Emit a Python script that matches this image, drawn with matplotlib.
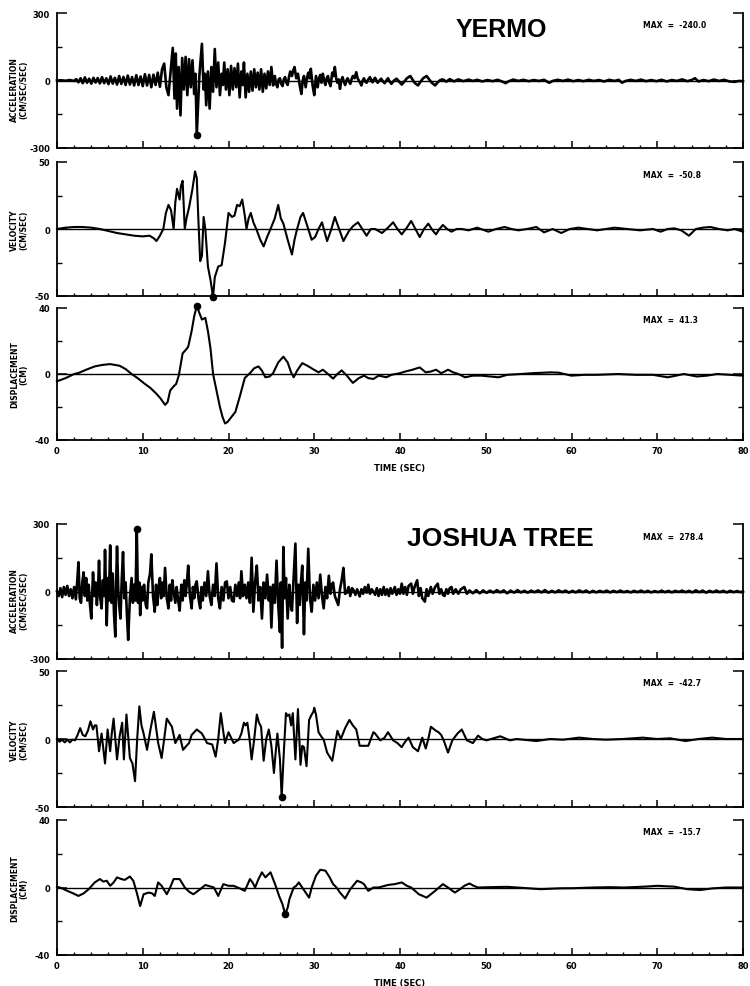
import numpy as np
import matplotlib
matplotlib.use("Agg")
import matplotlib.pyplot as plt
from matplotlib.ticker import FixedLocator, MultipleLocator

# ---------------- data (time [s], value) read from the record ----------------
yermo_acc = [(0,0),(0.5,1),(1.0,-1),(1.5,2),(2.0,-2),
(2.25,6),(2.5,-8),(2.75,10),(3.0,-12),(3.25,14),(3.5,-10),(3.75,8),(4.0,-14),(4.25,12),(4.5,-9),(4.75,11),(5.0,-13),(5.25,15),(5.5,-12),(5.75,10),(6.0,-16),(6.25,18),(6.5,-14),(6.75,12),(7.0,-18),(7.25,20),(7.5,-15),(7.75,16),(8.0,-20),(8.25,22),(8.5,-18),(8.75,15),(9.0,-22),(9.25,24),(9.5,-20),(9.75,18),(10.0,-25),
(10.25,28),(10.5,-22),(10.75,25),(11.0,-30),(11.25,26),(11.5,-20),(11.75,35),(12.0,-28),
(12.25,50),(12.5,75),(12.75,-30),(13.0,-65),(13.25,40),(13.5,145),(13.7,-80),(13.85,120),(14.0,-125),(14.2,60),(14.4,-155),(14.6,100),(14.8,-40),(15.0,105),(15.2,-65),(15.4,95),(15.6,-30),(15.8,90),(16.0,-60),(16.15,30),(16.3,-240),(16.6,20),(16.9,163),(17.1,-40),(17.25,30),(17.4,-110),(17.6,40),(17.8,-125),(18.0,60),(18.2,-50),(18.4,140),(18.6,-30),(18.8,80),(19.0,-65),(19.2,30),(19.35,-20),(19.5,80),(19.7,-40),(19.9,50),(20.1,-65),(20.3,65),(20.5,-40),(20.7,55),(20.9,-30),(21.1,75),(21.3,-75),(21.5,40),(21.65,-20),(21.8,80),(22.0,-75),(22.2,30),(22.4,-50),(22.6,40),(22.8,-45),(23.0,50),(23.2,-30),(23.4,35),(23.6,-40),(23.8,50),(24.0,-50),(24.2,30),(24.4,-35),(24.6,40),(24.8,-20),(25.0,60),(25.2,-22),(25.4,20),(25.55,-15),(25.7,-30),(25.85,5),(26.0,10),(26.15,-15),(26.3,-25),(26.45,5),(26.6,15),(26.75,-10),(26.9,-20),(27.05,15),(27.2,40),(27.4,20),(27.55,45),(27.7,60),(27.9,10),(28.1,30),(28.3,-20),(28.5,-60),(28.65,0),(28.8,20),(29.0,-30),(29.15,10),(29.3,35),(29.45,10),(29.6,52),(29.8,-20),(30.0,-65),(30.2,20),(30.4,-30),(30.55,10),(30.7,25),(30.85,-10),(31.0,30),(31.15,0),(31.3,-20),(31.45,10),(31.6,20),(31.75,-10),(31.9,-25),(32.1,35),(32.25,20),(32.4,60),(32.55,10),(32.7,-10),(32.85,5),(33.0,-37),(33.15,0),(33.3,15),(33.45,-5),(33.6,-20),(33.75,0),(33.9,10),(34.05,-5),(34.2,-15),(34.35,5),(34.5,20),(34.7,10),(34.9,37),(35.05,10),(35.2,0),(35.35,-10),(35.5,-22),(35.65,0),(35.8,10),(35.95,-5),(36.1,-10),(36.3,5),(36.5,15),(36.65,0),(36.8,-8),(36.95,5),(37.1,12),(37.25,0),(37.4,-10),(37.6,0),(37.8,8),(38.0,-3),(38.2,-12),(38.4,0),(38.6,10),(38.8,-5),(39.0,-15),(39.3,0),(39.6,8),(39.9,-5),(40.2,-18),(40.5,-5),(40.8,10),(41.2,20),(41.4,8),(41.7,-10),(42.1,-22),(42.4,-5),(42.7,10),(43.1,20),(43.4,5),(43.7,-10),(44.1,-22),(44.4,-8),(44.7,2),(45.0,5),(45.4,-5),(45.8,6),(46.3,-4),(46.8,5),(47.4,-3),(48.0,4),(48.5,-2),(49.0,3),(49.6,-4),(50.2,2),(50.8,-3),(51.4,3),(52.0,-6),(52.3,-12),(52.7,-3),(53.2,4),(53.8,-2),(54.4,3),(55.0,-3),(55.6,2),(56.2,-2),(56.8,3),(57.4,-10),(57.8,-2),(58.4,3),(59.0,-2),(59.6,4),(60.2,-3),(60.8,2),(61.4,-3),(62.0,3),(62.6,-2),(63.2,2),(63.8,-4),(64.4,3),(65.0,-2),(65.5,3),(65.9,-10),(66.3,-2),(66.9,3),(67.5,-2),(68.1,4),(68.7,-3),(69.3,2),(69.9,-3),(70.5,3),(71.1,-4),(71.7,2),(72.3,-2),(72.9,5),(73.5,-3),(74.0,2),(74.4,10),(74.8,-4),(75.4,2),(76.0,-3),(76.6,4),(77.2,-2),(77.8,3),(78.4,-4),(79.0,-6),(79.5,-2),(80.0,-3)]

yermo_vel = [(0,0),(1,1),(2,1.5),(3,1.5),(4,1),(5,0),(6,-1.5),(7,-3),(8,-4),(9,-5),(10,-5.5),(10.8,-5),(11.3,-7),(11.6,-9),(12.0,-5),(12.4,0),(12.7,12),(13.0,18),(13.3,14),(13.6,0),(13.8,20),(14.0,30),(14.15,26),(14.3,22),(14.45,32),(14.65,36),(14.9,0),(15.1,8),(15.4,16),(15.8,30),(16.1,43),(16.3,38),(16.5,5),(16.7,-24),(16.9,-20),(17.1,9),(17.3,0),(17.6,-28),(17.9,-38),(18.2,-50.8),(18.4,-36),(18.6,-32),(18.8,-28),(19.2,-27),(19.6,-10),(20.0,12),(20.4,9),(20.7,10),(21.0,18),(21.3,17),(21.6,22),(21.9,10),(22.1,0),(22.35,8),(22.6,12),(22.9,5),(23.3,-1),(23.7,-8),(24.1,-13),(24.5,-6),(24.9,0),(25.4,8),(25.8,18),(26.1,8),(26.4,4),(26.9,-8),(27.4,-19),(27.7,-8),(28.0,0),(28.4,9),(28.7,12),(29.0,6),(29.3,0),(29.7,-8),(30.1,-6),(30.5,0),(30.9,5),(31.2,-2),(31.5,-9),(32.0,0),(32.4,9),(32.9,0),(33.4,-9),(34.0,-2),(34.5,2),(35.1,5),(35.6,0),(36.1,-5),(36.6,0),(37.1,0),(37.9,-3),(38.6,1),(39.2,5),(39.7,0),(40.2,-4),(40.8,1),(41.3,6),(41.8,0),(42.3,-6),(42.8,0),(43.3,4),(43.8,-1),(44.2,-4),(44.6,0),(45.0,3),(45.5,0),(46.0,-2),(46.6,0),(47.2,0),(48.0,-1),(49.0,1),(50.3,-2),(51.2,0),(52.2,1.5),(53.0,0),(53.8,-1),(54.8,0),(55.9,1.5),(56.8,-2.5),(57.8,0),(58.8,-3),(59.8,0),(60.8,1),(61.9,0),(63.0,-1),(65.0,1),(66.5,0),(68.0,-1),(69.5,0),(70.4,-2),(71.2,0),(72.0,0.5),(72.8,-1),(73.7,-5),(74.5,0),(75.3,1),(76.2,1.5),(77.2,0),(78.2,-1),(79.0,0),(80,-2)]

yermo_disp = [(0,-4.4),(1,-2.5),(2,0),(2.5,0.6),(3.5,2.8),(4.4,4.6),(5.3,5.5),(6.2,6),(7.3,5),(8,3),(8.7,0),(9.4,-2.5),(10.1,-5.4),(10.9,-8.5),(11.6,-12),(12.1,-15),(12.6,-18.7),(12.9,-17),(13.2,-10),(13.6,-7.5),(13.9,-6),(14.2,-1),(14.65,12.5),(15.0,14.5),(15.3,16.5),(15.7,26),(16.0,35),(16.3,41.3),(16.6,37),(16.9,33),(17.3,34),(17.6,26),(17.9,15.5),(18.2,0),(18.6,-10),(19.0,-20),(19.3,-26),(19.6,-30),(19.9,-29),(20.2,-27),(20.8,-23),(21.3,-14),(21.9,-2.4),(22.5,0.5),(23.0,3.5),(23.5,4.6),(23.9,2),(24.3,-2),(24.8,-1.5),(25.2,0.5),(25.8,7),(26.4,10.5),(26.9,7),(27.3,1),(27.6,-2),(28.0,2),(28.6,6.6),(29.2,5),(30.0,2.5),(30.5,1),(31.0,2.6),(31.6,0),(32.2,-2.8),(32.7,0),(33.2,2.2),(33.8,-1),(34.5,-5.4),(35.2,-2.5),(35.8,-1),(36.3,-2.5),(36.9,-3),(37.5,-1),(38.0,-1.5),(38.4,-2),(39.0,-0.5),(40.0,0.5),(40.6,1.5),(41.4,2.5),(42.3,4),(43.0,1),(43.6,1.5),(44.2,2.6),(44.8,0.5),(45.2,1.5),(45.6,2.6),(46.2,1),(46.8,0),(47.6,-2),(48.5,-1),(49.5,-1),(50.5,-1.5),(51.5,-2),(52.5,-0.5),(54.1,0),(55.5,0.5),(57.6,1),(58.5,0.8),(60.0,-1),(61.5,-0.5),(63.0,-0.5),(65.4,0),(67.5,-0.5),(69.5,-0.5),(71.2,-2),(72.2,-1),(73.1,0),(74.6,-1.5),(75.8,-1),(77.0,0),(78.5,-0.5),(80,-1)]

joshua_acc = [(0,0),(0.2,-20),(0.4,15),(0.6,-25),(0.8,20),(1.0,-15),(1.2,25),(1.4,-20),(1.6,10),(1.8,-30),(2.0,20),(2.2,-35),(2.35,40),(2.5,130),(2.65,-30),(2.8,-50),(2.95,40),(3.1,85),(3.25,-20),(3.4,60),(3.55,-40),(3.7,30),(3.85,-60),(4.0,-120),(4.2,85),(4.35,-20),(4.5,40),(4.65,-60),(4.8,20),(4.9,137),(5.05,-30),(5.2,-75),(5.35,50),(5.5,-20),(5.6,185),(5.8,-150),(5.95,60),(6.05,-40),(6.2,205),(6.35,-50),(6.5,80),(6.65,-100),(6.8,-200),(6.9,40),(7.0,200),(7.15,0),(7.25,-60),(7.4,-120),(7.55,50),(7.7,175),(7.85,-30),(8.0,40),(8.15,-100),(8.3,-215),(8.5,-30),(8.7,60),(8.85,-50),(9.0,30),(9.15,-40),(9.3,278),(9.45,-50),(9.6,40),(9.7,-105),(9.85,20),(10.0,-40),(10.15,30),(10.35,-60),(10.5,-75),(10.65,40),(10.85,80),(11.0,165),(11.2,-20),(11.4,-90),(11.55,30),(11.7,-60),(11.85,20),(12.0,60),(12.15,-30),(12.3,40),(12.45,-20),(12.6,105),(12.8,-30),(13.0,-75),(13.15,30),(13.3,-40),(13.45,50),(13.6,0),(13.8,-50),(13.95,20),(14.1,-30),(14.3,-85),(14.5,30),(14.65,-40),(14.85,50),(15.0,-20),(15.15,40),(15.3,115),(15.5,-20),(15.7,-75),(15.85,20),(16.0,-30),(16.15,30),(16.3,45),(16.5,-30),(16.7,-75),(16.85,20),(17.0,-40),(17.2,40),(17.4,-20),(17.6,90),(17.8,-20),(18.0,-60),(18.2,30),(18.4,-20),(18.6,125),(18.8,-30),(19.0,-75),(19.2,20),(19.4,-40),(19.6,40),(19.8,45),(20.0,-30),(20.2,20),(20.4,-40),(20.6,-45),(20.8,30),(21.0,-20),(21.2,40),(21.35,-30),(21.5,90),(21.7,-20),(21.9,30),(22.1,-30),(22.3,40),(22.5,-50),(22.7,150),(22.9,-90),(23.1,40),(23.3,115),(23.5,-40),(23.7,20),(23.9,-120),(24.1,40),(24.3,-30),(24.5,75),(24.7,-40),(24.85,20),(25.0,-160),(25.2,30),(25.4,-50),(25.6,137),(25.8,-60),(26.0,-180),(26.1,40),(26.25,-250),(26.4,198),(26.55,-30),(26.7,60),(26.9,-120),(27.1,30),(27.25,-60),(27.4,-85),(27.6,60),(27.8,213),(28.0,-140),(28.15,30),(28.3,-60),(28.45,40),(28.6,115),(28.8,-190),(28.95,40),(29.1,-40),(29.3,190),(29.5,-30),(29.7,-90),(29.9,30),(30.1,-40),(30.3,40),(30.5,-30),(30.7,75),(30.9,-20),(31.1,-75),(31.3,20),(31.5,-30),(31.7,70),(31.9,-10),(32.05,30),(32.2,40),(32.4,-20),(32.6,-40),(32.8,-60),(33.0,10),(33.2,50),(33.4,105),(33.6,-10),(33.8,-5),(34.0,20),(34.2,-20),(34.4,15),(34.6,5),(34.8,-15),(35.0,10),(35.3,-22),(35.5,10),(35.7,-10),(35.9,20),(36.1,-5),(36.3,30),(36.5,-10),(36.7,10),(36.9,0),(37.1,-15),(37.3,15),(37.5,-20),(37.7,10),(37.9,-15),(38.1,20),(38.3,-15),(38.5,10),(38.7,-20),(38.9,15),(39.1,-10),(39.4,20),(39.6,-15),(39.8,10),(40.0,-10),(40.2,35),(40.4,-10),(40.6,20),(40.8,-15),(41.0,25),(41.3,35),(41.5,-10),(41.7,20),(42.0,50),(42.2,-20),(42.4,15),(42.6,-30),(42.9,-45),(43.1,10),(43.3,-20),(43.6,20),(43.8,-10),(44.1,20),(44.4,35),(44.6,-10),(44.8,10),(45.0,-15),(45.2,-20),(45.4,10),(45.6,-10),(45.8,15),(46.0,20),(46.2,-10),(46.5,10),(46.8,-10),(47.1,10),(47.5,20),(47.8,-10),(48.1,5),(48.5,-8),(48.9,6),(49.3,-8),(49.7,5),(50.1,-6),(50.5,4),(50.9,-5),(51.3,6),(51.7,-4),(52.1,5),(52.5,-8),(52.9,4),(53.3,-5),(53.7,6),(54.1,-4),(54.5,3),(54.9,-5),(55.3,4),(55.7,-3),(56.1,5),(56.5,-4),(56.9,6),(57.3,-5),(57.7,3),(58.1,-4),(58.5,5),(58.9,-3),(59.3,4),(59.7,-5),(60.1,3),(60.5,-4),(60.9,5),(61.3,-3),(61.7,4),(62.1,-5),(62.5,3),(62.9,-4),(63.3,3),(63.7,-3),(64.1,4),(64.5,-4),(64.9,3),(65.3,-3),(65.7,4),(66.1,-3),(66.5,2),(66.9,-4),(67.3,3),(67.7,-3),(68.1,4),(68.5,-3),(68.9,3),(69.3,-4),(69.7,2),(70.1,-3),(70.5,4),(70.9,-3),(71.3,3),(71.7,-4),(72.1,3),(72.5,-2),(72.9,4),(73.3,-3),(73.7,3),(74.1,-4),(74.5,5),(74.9,-3),(75.3,4),(75.7,-5),(76.1,3),(76.5,-3),(76.9,4),(77.3,-3),(77.7,3),(78.1,-4),(78.5,3),(78.9,-3),(79.3,2),(79.7,-3),(80,0)]

joshua_vel = [(0,0),(0.3,-2),(0.6,-0.5),(0.9,-2.5),(1.2,-0.5),(1.5,-2.5),(1.8,-0.5),(2.1,-1),(2.4,3),(2.7,8),(3.0,3),(3.3,2),(3.6,6),(3.9,13),(4.2,7),(4.4,10),(4.6,10),(4.9,-9),(5.2,4),(5.6,-18),(5.9,7),(6.2,-9),(6.4,5),(6.6,15),(7.0,-15),(7.3,2),(7.6,12),(7.8,-15),(8.1,18),(8.5,-14),(8.8,-18),(9.1,-31),(9.35,0),(9.6,24),(9.85,10),(10.1,4),(10.5,-8),(10.9,7),(11.3,20),(11.8,-3),(12.2,-14),(12.5,0),(12.8,15),(13.1,12),(13.4,9),(13.8,-3),(14.3,3),(14.7,-8),(15.1,-5),(15.4,-3),(15.7,3),(16.3,7),(16.9,4),(17.5,-3),(18.1,-4),(18.5,-13),(18.8,0),(19.1,19),(19.4,5),(19.6,-3),(20.0,5),(20.3,1),(20.6,-3),(21.2,-0.5),(21.5,4),(21.8,12),(22.0,10),(22.2,12),(22.45,0),(22.7,-15),(23.0,0),(23.3,18),(23.55,12),(23.8,9),(24.1,-16),(24.4,0),(24.7,7),(25.0,-5),(25.3,-25),(25.5,-10),(25.7,4),(26.0,-15),(26.2,-42.7),(26.45,-10),(26.7,19),(26.9,17),(27.1,18),(27.3,10),(27.5,19),(27.8,-15),(28.1,22),(28.4,-19),(28.6,-5),(28.8,-6),(29.1,-20),(29.4,14),(29.7,18),(29.9,20),(30.0,23),(30.2,18),(30.5,5),(30.8,2),(31.1,-0.5),(31.5,-10),(32.1,-16),(32.4,-5),(32.7,6),(33.1,0),(33.6,8),(34.1,14),(34.5,10),(34.9,7),(35.3,-5),(35.8,-5),(36.3,-5),(36.9,5),(37.1,4),(37.7,-1),(38.2,1),(38.6,5),(39.2,-1),(39.7,-3),(40.2,-6),(40.6,-2),(41.0,1),(41.5,-6),(42.1,-9),(42.6,1),(43.0,-7),(43.3,0),(43.6,9),(44.2,6),(44.5,5),(44.8,3),(45.1,-1),(45.6,-10),(46.1,-1),(46.7,4),(47.2,7),(47.8,-1),(48.5,-3),(49.1,2.5),(49.6,0),(50.1,-1),(50.9,0.5),(51.7,2),(52.8,-1),(53.6,0),(54.4,-0.5),(55.9,-1.5),(57.5,0),(59.0,-0.5),(60.9,1),(62.5,0),(64.0,-0.5),(66.0,0),(68.3,1),(70.0,0),(71.5,0.5),(73.3,-1.5),(74.8,0),(76.4,1),(78.0,0),(79.5,0),(80,0)]

joshua_disp = [(0,0.5),(0.6,-0.5),(1.2,-2),(1.9,-3.5),(2.5,-5),(3.1,-3.5),(3.7,-1),(4.4,3),(5.0,5),(5.4,3.5),(5.8,4),(6.2,1),(6.6,3),(7.0,6),(7.5,5),(7.9,4.5),(8.5,6.5),(8.9,4),(9.3,-3),(9.7,-11),(10.1,-4),(10.7,-3),(11.1,-3.5),(11.4,-5),(11.8,3),(12.2,1),(12.8,-4),(13.2,0),(13.6,5),(14.3,5),(14.9,0),(15.4,-2.5),(15.9,-4),(16.7,-1),(17.3,1.5),(18.3,0),(18.8,-5),(19.4,2),(20.0,1),(20.6,1),(21.3,-0.5),(21.9,-2),(22.5,5),(22.8,3),(23.1,0),(23.5,5),(23.9,9),(24.3,6),(24.9,9),(25.5,1),(25.9,-5),(26.3,-10),(26.6,-15.7),(26.9,-12),(27.1,-7),(27.6,0),(27.9,1),(28.2,3),(28.6,0),(29.0,-3),(29.4,-6),(29.7,0),(30.2,7),(30.7,10.5),(31.3,10),(31.8,6),(32.2,2),(32.6,0),(33.0,-3),(33.6,-6.5),(34.2,-1),(35.0,4),(35.5,3),(35.8,2),(36.3,-2),(36.9,0),(37.5,0),(38.6,1.5),(39.4,2),(40.2,3),(40.8,1),(41.3,0),(42.2,-4),(43.1,-6),(43.6,-4),(44.1,-2),(45.0,2),(45.6,0),(46.4,-3),(47.0,-1),(47.5,1),(48.1,2.4),(48.6,1),(49.1,0),(50.5,0.2),(52.5,0.4),(54.5,-0.3),(56.4,-1),(58.5,-0.5),(60.3,-0.4),(62.5,0),(64.5,0.2),(66.1,0),(68.5,0.5),(70.0,1),(72.0,0.5),(73.5,-1),(75.0,-1.5),(76.5,-0.5),(78.0,0),(79.7,0),(80,0)]

station_names = ["YERMO", "JOSHUA TREE"]
max_labels = ["MAX  =  -240.0", "MAX  =  -50.8", "MAX  =  41.3",
              "MAX  =  278.4", "MAX  =  -42.7", "MAX  =  -15.7"]
y_limits = [300, 50, 40, 300, 50, 40]
y_labels = ["ACCELERATION\n(CM/SEC/SEC)", "VELOCITY\n(CM/SEC)", "DISPLACEMENT\n(CM)"] * 2
x_ticks = [0, 10, 20, 30, 40, 50, 60, 70, 80]
x_label = "TIME (SEC)"
traces = [yermo_acc, yermo_vel, yermo_disp, joshua_acc, joshua_vel, joshua_disp]

# ---------------- layout (pixel rows of each panel) ----------------
W, H = 750, 987
panel_px = [(14, 149), (163, 297), (309, 441), (525, 660), (672, 808), (821, 956)]
x0_px, x1_px = 57, 743

BOLD = dict(family="DejaVu Sans", fontweight="bold")

fig = plt.figure(figsize=(W / 100, H / 100), dpi=100)
for i, (trace, (top, bot)) in enumerate(zip(traces, panel_px)):
    ph = bot - top
    ax = fig.add_axes([x0_px / W, 1 - bot / H, (x1_px - x0_px) / W, ph / H])
    t = np.array([p[0] for p in trace])
    v = np.array([p[1] for p in trace])
    lim = y_limits[i]
    is_acc = i in (0, 3)
    ax.axhline(0, color="black", lw=1.0, zorder=1)
    ax.plot(t, v, color="black", lw=1.9 if is_acc else 1.5, zorder=2, clip_on=False,
            solid_joinstyle="round")
    k = int(np.argmax(np.abs(v)))
    ax.plot([t[k]], [v[k]], "o", color="black", ms=4.5, zorder=3, clip_on=False)

    ax.set_xlim(0, 80)
    ax.set_ylim(-lim, lim)
    ax.spines["top"].set_visible(False)
    for s in ("left", "right", "bottom"):
        ax.spines[s].set_linewidth(1.3)

    ax.xaxis.set_major_locator(FixedLocator(x_ticks))
    ax.xaxis.set_minor_locator(MultipleLocator(2))
    ax.yaxis.set_major_locator(FixedLocator([-lim, 0, lim]))
    ax.yaxis.set_minor_locator(FixedLocator([-lim / 2, lim / 2]))
    ax.tick_params(axis="x", which="major", direction="in", length=5, width=1.1,
                   top=False, pad=4)
    ax.tick_params(axis="x", which="minor", direction="in", length=2.5, width=1.0, top=False)
    ax.tick_params(axis="y", which="major", direction="in", length=7, width=1.1,
                   left=True, right=True, pad=5)
    ax.tick_params(axis="y", which="minor", direction="in", length=3.5, width=1.0,
                   left=True, right=True)
    ax.set_yticklabels([str(-lim), "0", str(lim)], fontsize=6, **BOLD)

    if i in (2, 5):
        ax.set_xticklabels([str(x) for x in x_ticks], fontsize=6, **BOLD)
        ax.text(0.5, -28 / ph, x_label, transform=ax.transAxes,
                ha="center", va="center", fontsize=6, **BOLD)
    else:
        ax.set_xticklabels([])

    ylab_y = 0.5 - (8 / ph if is_acc else 0)
    ax.text(-38 / (x1_px - x0_px), ylab_y, y_labels[i], transform=ax.transAxes,
            rotation=90, ha="center", va="center", multialignment="center",
            fontsize=5.5, linespacing=1.0, **BOLD)
    ax.text(0.854, 1 - 12 / ph, max_labels[i], transform=ax.transAxes,
            ha="left", va="center", fontsize=5.5, **BOLD)
    if i == 0:
        ax.text(0.648, 1 - 16 / ph, station_names[0], transform=ax.transAxes,
                ha="center", va="center", fontsize=18, family="Liberation Sans",
                fontweight="bold")
    elif i == 3:
        ax.text(0.647, 1 - 14 / ph, station_names[1], transform=ax.transAxes,
                ha="center", va="center", fontsize=19, family="Liberation Sans",
                fontweight="bold")

fig.savefig("out.png", dpi=100, facecolor="white")
